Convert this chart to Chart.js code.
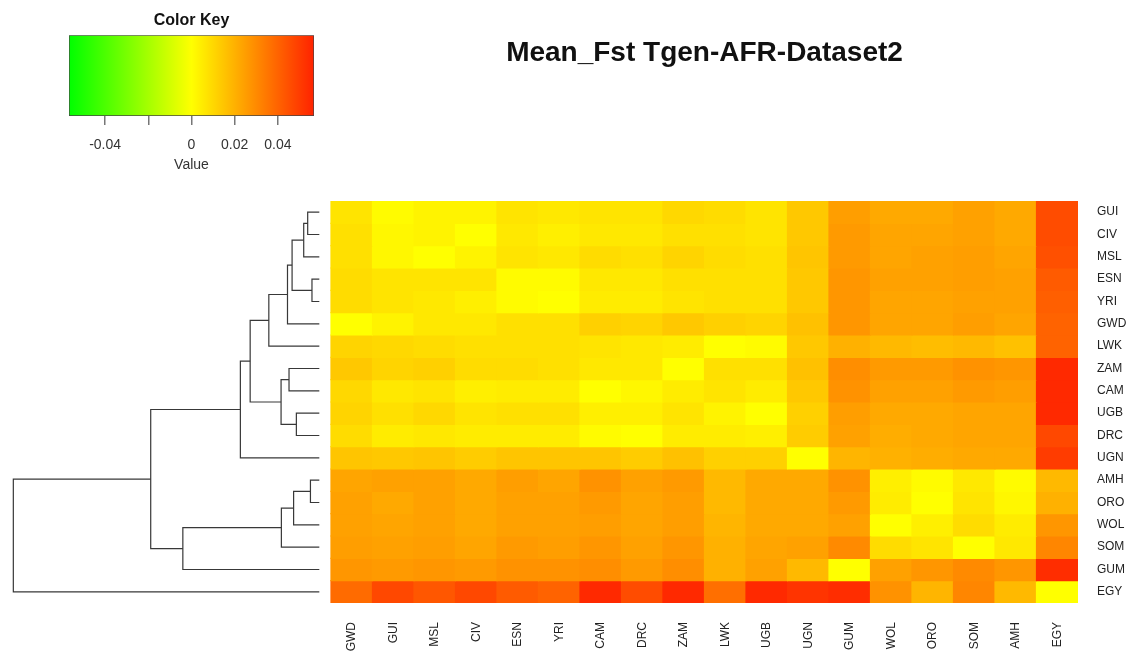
<!DOCTYPE html>
<html>
<head>
<meta charset="utf-8">
<title>Mean_Fst Tgen-AFR-Dataset2</title>
<script src="https://cdn.jsdelivr.net/npm/chart.js@4"></script>
<style>
  html, body { margin: 0; padding: 0; background: #fff; }
  #wrap { position: relative; width: 1130px; height: 655px; overflow: hidden; }
  #heat, #key { position: absolute; left: 0; top: 0; }
  #title {
    position: absolute; left: 331px; width: 747px; top: 36px;
    text-align: center; font: bold 28px 'Liberation Sans', Arial, sans-serif; color: #111;
  }
</style>
</head>
<body>
<div id="wrap">
  <canvas id="heat" width="1130" height="655"></canvas>
  <canvas id="key" width="340" height="180"></canvas>
  <div id="title">Mean_Fst Tgen-AFR-Dataset2</div>
</div>
<script>
// rows top to bottom (dendrogram order), columns left to right
const rowLabels = ['GUI', 'CIV', 'MSL', 'ESN', 'YRI', 'GWD', 'LWK', 'ZAM', 'CAM', 'UGB', 'DRC', 'UGN', 'AMH', 'ORO', 'WOL', 'SOM', 'GUM', 'EGY'];
const colLabels = ['GWD', 'GUI', 'MSL', 'CIV', 'ESN', 'YRI', 'CAM', 'DRC', 'ZAM', 'LWK', 'UGB', 'UGN', 'GUM', 'WOL', 'ORO', 'SOM', 'AMH', 'EGY'];

// mean Fst, one array per row
const fstValues = [
  [0.007, 0.001, 0.003, 0.003, 0.007, 0.006, 0.007, 0.007, 0.010, 0.009, 0.007, 0.014, 0.025, 0.022, 0.022, 0.024, 0.022, 0.046],
  [0.008, 0.002, 0.003, 0.000, 0.006, 0.004, 0.006, 0.006, 0.008, 0.008, 0.007, 0.014, 0.026, 0.023, 0.023, 0.024, 0.022, 0.046],
  [0.008, 0.002, 0.000, 0.003, 0.007, 0.006, 0.009, 0.008, 0.011, 0.009, 0.008, 0.015, 0.026, 0.023, 0.024, 0.025, 0.023, 0.045],
  [0.009, 0.007, 0.007, 0.007, 0.001, 0.001, 0.006, 0.006, 0.008, 0.008, 0.008, 0.014, 0.027, 0.024, 0.024, 0.025, 0.024, 0.042],
  [0.009, 0.007, 0.006, 0.004, 0.001, 0.000, 0.005, 0.005, 0.007, 0.008, 0.008, 0.014, 0.027, 0.023, 0.023, 0.024, 0.024, 0.041],
  [0.000, 0.003, 0.006, 0.006, 0.008, 0.008, 0.012, 0.011, 0.014, 0.012, 0.011, 0.016, 0.027, 0.023, 0.023, 0.025, 0.023, 0.040],
  [0.011, 0.010, 0.009, 0.008, 0.008, 0.008, 0.007, 0.006, 0.005, 0.000, 0.001, 0.014, 0.020, 0.018, 0.017, 0.018, 0.016, 0.040],
  [0.014, 0.011, 0.012, 0.009, 0.009, 0.008, 0.006, 0.006, 0.000, 0.008, 0.008, 0.016, 0.029, 0.026, 0.026, 0.028, 0.027, 0.055],
  [0.010, 0.006, 0.007, 0.004, 0.005, 0.005, 0.000, 0.002, 0.005, 0.007, 0.005, 0.014, 0.028, 0.024, 0.024, 0.026, 0.025, 0.055],
  [0.011, 0.008, 0.010, 0.007, 0.008, 0.008, 0.004, 0.004, 0.007, 0.003, 0.000, 0.012, 0.025, 0.022, 0.022, 0.023, 0.023, 0.055],
  [0.009, 0.005, 0.006, 0.005, 0.005, 0.005, 0.001, 0.000, 0.005, 0.005, 0.004, 0.013, 0.024, 0.021, 0.022, 0.023, 0.023, 0.047],
  [0.015, 0.014, 0.015, 0.013, 0.015, 0.015, 0.015, 0.013, 0.016, 0.012, 0.012, 0.000, 0.019, 0.020, 0.021, 0.022, 0.022, 0.050],
  [0.023, 0.024, 0.024, 0.022, 0.025, 0.023, 0.028, 0.024, 0.026, 0.018, 0.022, 0.022, 0.028, 0.004, 0.001, 0.006, 0.001, 0.018],
  [0.024, 0.022, 0.024, 0.022, 0.024, 0.024, 0.026, 0.023, 0.025, 0.018, 0.022, 0.022, 0.026, 0.005, 0.000, 0.007, 0.002, 0.020],
  [0.024, 0.023, 0.024, 0.022, 0.024, 0.024, 0.025, 0.023, 0.025, 0.019, 0.022, 0.022, 0.024, 0.000, 0.004, 0.009, 0.005, 0.027],
  [0.025, 0.024, 0.025, 0.023, 0.026, 0.025, 0.027, 0.024, 0.027, 0.020, 0.023, 0.024, 0.030, 0.009, 0.007, 0.000, 0.006, 0.031],
  [0.027, 0.026, 0.027, 0.026, 0.028, 0.028, 0.029, 0.026, 0.029, 0.020, 0.024, 0.018, 0.000, 0.024, 0.027, 0.030, 0.027, 0.054],
  [0.038, 0.047, 0.043, 0.047, 0.042, 0.040, 0.055, 0.046, 0.055, 0.037, 0.055, 0.052, 0.054, 0.028, 0.019, 0.031, 0.018, 0.000]
];

// row dendrogram: [left, right, height]; numbers refer to earlier merges
const treeMerges = [
  ['GUI', 'CIV', 0.038],
  [0, 'MSL', 0.051],
  ['ESN', 'YRI', 0.024],
  [1, 2, 0.089],
  [3, 'GWD', 0.104],
  [4, 'LWK', 0.165],
  ['ZAM', 'CAM', 0.099],
  ['UGB', 'DRC', 0.075],
  [6, 7, 0.125],
  [5, 8, 0.226],
  [9, 'UGN', 0.258],
  ['AMH', 'ORO', 0.029],
  [11, 'WOL', 0.084],
  [12, 'SOM', 0.124],
  [13, 'GUM', 0.446],
  [10, 14, 0.551],
  [15, 'EGY', 1.0]
];

// colour key
const keyMax = 0.0567;
const keyColors = ['#00ff00', '#ffff00', '#ff2200'];
const keyTicks = [-0.04, -0.02, 0, 0.02, 0.04];
const keyTickLabels = ['-0.04', '', '0', '0.02', '0.04'];

Chart.defaults.font.family = "'Liberation Sans', Arial, sans-serif";

function fstColor(v) {
  const t = Math.max(-1, Math.min(1, v / keyMax));
  if (t >= 0) return `rgb(255,${Math.round(255 - t * (255 - 34))},0)`;
  return `rgb(${Math.round(255 * (1 + t))},255,0)`;
}

// one dataset of floating bars per heatmap row
const cellSets = rowLabels.map((name, i) => ({
  label: name,
  xAxisID: 'x',
  yAxisID: 'y',
  data: colLabels.map((c, j) => ({ x: j + 0.5, y: [i, i + 1] })),
  backgroundColor: fstValues[i].map(fstColor),
  borderWidth: 0,
  inflateAmount: 0.6,
  grouped: false,
  barPercentage: 1,
  categoryPercentage: 1
}));

// walk the merges, each one becomes a bracket-shaped line
const nodes = [];
function nodePos(ref) {
  if (typeof ref === 'number') return nodes[ref];
  return { x: 0, y: rowLabels.indexOf(ref) + 0.5 };
}
const treeSets = treeMerges.map(([a, b, h]) => {
  const pa = nodePos(a);
  const pb = nodePos(b);
  nodes.push({ x: h, y: (pa.y + pb.y) / 2 });
  return {
    type: 'line',
    xAxisID: 'xd',
    yAxisID: 'y',
    data: [{ x: pa.x, y: pa.y }, { x: h, y: pa.y }, { x: h, y: pb.y }, { x: pb.x, y: pb.y }],
    borderColor: '#383838',
    borderWidth: 1.2,
    pointRadius: 0,
    fill: false,
    tension: 0
  };
});

new Chart(document.getElementById('heat'), {
  type: 'bar',
  data: { datasets: [...cellSets, ...treeSets] },
  options: {
    responsive: false,
    animation: false,
    layout: { padding: { top: 201, left: 5, right: 0, bottom: 0 } },
    plugins: {
      legend: { display: false },
      tooltip: { enabled: false }
    },
    scales: {
      x: {
        type: 'linear',
        position: 'bottom',
        min: -7.855,
        max: 18,
        bounds: 'data',
        offset: false,
        grid: { display: false, drawTicks: false },
        border: { display: false },
        afterBuildTicks: s => { s.ticks = colLabels.map((c, j) => ({ value: j + 0.5 })); },
        afterFit: s => { s.height = 52; },
        ticks: {
          autoSkip: false,
          minRotation: 90,
          maxRotation: 90,
          padding: 19,
          color: '#222',
          font: { size: 12 },
          callback: (v, i) => colLabels[i]
        }
      },
      xd: {
        type: 'linear',
        display: false,
        reverse: true,
        min: -2.4794,
        max: 1.0272,
        bounds: 'data',
        offset: false
      },
      y: {
        type: 'linear',
        position: 'right',
        reverse: true,
        min: 0,
        max: 18,
        bounds: 'data',
        offset: false,
        grid: { display: false, drawTicks: false },
        border: { display: false },
        afterBuildTicks: s => { s.ticks = rowLabels.map((r, i) => ({ value: i + 0.5 })); },
        afterFit: s => { s.width = 52; },
        ticks: {
          autoSkip: false,
          padding: 19,
          color: '#222',
          font: { size: 12 },
          callback: (v, i) => rowLabels[i]
        }
      }
    }
  }
});

new Chart(document.getElementById('key'), {
  type: 'bar',
  data: {
    labels: [''],
    datasets: [{
      data: [[-keyMax, keyMax]],
      backgroundColor: ctx => {
        const { chart } = ctx;
        if (!chart.chartArea) return null;
        const sx = chart.scales.x;
        const g = chart.ctx.createLinearGradient(sx.getPixelForValue(-keyMax), 0, sx.getPixelForValue(keyMax), 0);
        keyColors.forEach((c, i) => g.addColorStop(i / (keyColors.length - 1), c));
        return g;
      },
      borderColor: '#444',
      borderWidth: 1,
      borderSkipped: false,
      barPercentage: 1,
      categoryPercentage: 1
    }]
  },
  options: {
    indexAxis: 'y',
    responsive: false,
    animation: false,
    layout: { padding: { left: 69, right: 26, top: 0, bottom: 0 } },
    plugins: {
      legend: { display: false },
      tooltip: { enabled: false },
      title: {
        display: true,
        text: 'Color Key',
        color: '#111',
        font: { size: 16, weight: 'bold' },
        padding: { top: 11, bottom: 5 }
      }
    },
    scales: {
      x: {
        type: 'linear',
        min: -keyMax,
        max: keyMax,
        bounds: 'data',
        offset: false,
        grid: { drawOnChartArea: false, drawTicks: true, tickLength: 9, color: '#777', lineWidth: 1.5 },
        border: { display: false },
        afterBuildTicks: s => { s.ticks = keyTicks.map(v => ({ value: v })); },
        afterFit: s => { s.height = 64; },
        ticks: {
          padding: 12,
          color: '#333',
          font: { size: 14 },
          callback: (v, i) => keyTickLabels[i]
        },
        title: {
          display: true,
          text: 'Value',
          color: '#333',
          font: { size: 14 },
          padding: { top: 0, bottom: 6 }
        }
      },
      y: { display: false }
    }
  }
});
</script>
</body>
</html>
